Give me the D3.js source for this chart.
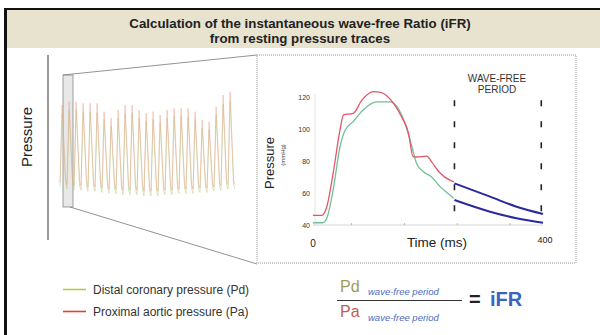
<!DOCTYPE html>
<html>
<head>
<meta charset="utf-8">
<script src="https://cdn.jsdelivr.net/npm/d3@7"></script>
<style>
	body { margin: 0; background: #fff; }
	svg { display: block; font-family: 'Liberation Sans', Arial, sans-serif; }
</style>
</head>
<body>
<svg></svg>
<script>
// main beat (time in ms, pressure in mmHg)
const paTime = [0, 15, 24, 35, 47, 53, 70, 85, 105, 119, 140, 154, 166, 174, 179, 198, 206, 221, 238, 245];
const paValue = [46, 46, 51.4, 72.3, 99.4, 108.8, 109.8, 118, 123.3, 122.7, 116, 107.7, 97.5, 82.7, 82.5, 83.1, 79.6, 72.5, 68, 67];
const pdTime = [0, 17, 24, 35, 47, 56, 70, 87, 111, 134, 146, 160, 172, 180, 192, 206, 221, 238, 245];
const pdValue = [41.4, 41.4, 44.2, 61.9, 88.9, 99.4, 104.6, 111.9, 117, 117, 114, 103.6, 88.9, 78.6, 73.3, 70.2, 64, 58.8, 56.7];

// wave-free period segments
const wfTime = [246, 308, 354, 400];
const wfPa = [66, 57.7, 51.4, 46.9];
const wfPd = [55.6, 48.3, 44.2, 41.4];
const wfWindow = [246, 397];

const yTicks = [40, 60, 80, 100, 120];
const xMinorTicks = [67, 159, 251, 343];

// compressed recording on the left: one value per beat
const miniPaPeak = [120, 123, 123, 121.5, 121.5, 121.5, 114, 108, 115.5, 120, 120, 115.5, 112.5, 114, 111, 115.5, 117, 117, 117, 114, 106.5, 105, 118.5, 129, 132];
const miniPaTrough = [50, 48, 47, 47, 46, 46, 45, 44, 44, 43, 43, 43, 42, 42, 42, 43, 43, 44, 44, 44, 45, 45, 46, 47, 48];
const miniPdPeak = [112, 115, 116, 114, 114, 113, 107, 101, 108, 112, 113, 108, 105, 107, 104, 108, 110, 110, 109, 107, 99, 98, 111, 121, 124];
const miniPdTrough = [46, 44, 43, 43, 42, 42, 41, 40, 40, 39, 39, 39, 38, 38, 38, 39, 39, 40, 40, 40, 41, 41, 42, 43, 44];

const legendItems = ['Distal coronary pressure (Pd)', 'Proximal aortic pressure (Pa)'];
const legendColors = ['#b7c84e', '#e0402c'];

const width = 600;
const height = 335;

const svg = d3.select('svg')
	.attr('width', width)
	.attr('height', height);

// frame and title band
svg.append('rect')
	.attr('x', 6).attr('y', 9)
	.attr('width', 600).attr('height', 39)
	.attr('fill', '#e7e3cf');
svg.append('line')
	.attr('x1', 5).attr('x2', 600).attr('y1', 9).attr('y2', 9)
	.attr('stroke', '#111').attr('stroke-width', 2);
svg.append('line')
	.attr('x1', 5.5).attr('x2', 5.5).attr('y1', 8).attr('y2', height)
	.attr('stroke', '#111').attr('stroke-width', 3);

const title = svg.append('text')
	.attr('text-anchor', 'middle')
	.attr('font-weight', 'bold')
	.attr('font-size', 13.3)
	.attr('fill', '#222');
title.append('tspan').attr('x', 300).attr('y', 28).text('Calculation of the instantaneous wave-free Ratio (iFR)');
title.append('tspan').attr('x', 300).attr('y', 43).text('from resting pressure traces');

// left overview
svg.append('line')
	.attr('x1', 48).attr('x2', 48).attr('y1', 55).attr('y2', 240)
	.attr('stroke', '#777').attr('stroke-width', 1.5);
svg.append('text')
	.attr('transform', 'translate(32,137) rotate(-90)')
	.attr('text-anchor', 'middle')
	.attr('font-size', 15)
	.attr('fill', '#222')
	.text('Pressure');

svg.append('rect')
	.attr('x', 63).attr('y', 75).attr('width', 10).attr('height', 132)
	.attr('fill', '#e8e8e8').attr('stroke', '#888').attr('stroke-width', 0.8);
svg.append('line')
	.attr('x1', 63).attr('y1', 75).attr('x2', 257).attr('y2', 55)
	.attr('stroke', '#777').attr('stroke-width', 0.8);
svg.append('line')
	.attr('x1', 70).attr('y1', 207).attr('x2', 257).attr('y2', 264)
	.attr('stroke', '#777').attr('stroke-width', 0.8);

const miniX = d3.scaleLinear().domain([0, 25]).range([60, 235]);
const miniY = d3.scaleLinear().domain([45, 120]).range([188, 105]);

// each beat: sharp upstroke to the peak, fast fall back near the trough
function miniPoints(peaks, troughs) {
	const pts = [];
	peaks.forEach((p, i) => {
		pts.push([i, troughs[i]]);
		pts.push([i + 0.3, p]);
		pts.push([i + 0.8, troughs[i] + 4]);
	});
	pts.push([peaks.length, troughs[troughs.length - 1]]);
	return pts;
}
const miniLine = d3.line()
	.x(d => miniX(d[0]))
	.y(d => miniY(d[1]));

svg.append('path')
	.attr('d', miniLine(miniPoints(miniPdPeak, miniPdTrough)))
	.attr('fill', 'none').attr('stroke', '#b4d48a').attr('stroke-opacity', 0.55).attr('stroke-width', 1);
svg.append('path')
	.attr('d', miniLine(miniPoints(miniPaPeak, miniPaTrough)))
	.attr('fill', 'none').attr('stroke', '#ee9a84').attr('stroke-opacity', 0.45).attr('stroke-width', 1);

// inset
svg.append('rect')
	.attr('x', 257).attr('y', 55).attr('width', 319).attr('height', 208)
	.attr('fill', 'none').attr('stroke', '#999').attr('stroke-width', 1)
	.attr('stroke-dasharray', '1,1');

const xScale = d3.scaleLinear().domain([0, 400]).range([313, 543]);
const yScale = d3.scaleLinear().domain([40, 120]).range([225, 97]);

const g = svg.append('g');

g.append('line')
	.attr('x1', 315).attr('x2', 315).attr('y1', yScale(122)).attr('y2', yScale(40))
	.attr('stroke', '#ddd').attr('stroke-width', 0.8);
g.append('line')
	.attr('x1', xScale(0)).attr('x2', xScale(400)).attr('y1', yScale(40)).attr('y2', yScale(40))
	.attr('stroke', '#ccc').attr('stroke-width', 0.8);
g.selectAll('line.xtick').data(xMinorTicks)
	.enter().append('line')
		.attr('class', 'xtick')
		.attr('x1', d => xScale(d)).attr('x2', d => xScale(d))
		.attr('y1', yScale(40)).attr('y2', yScale(40) - 2)
		.attr('stroke', '#aaa').attr('stroke-width', 0.8);

g.selectAll('text.ytick').data(yTicks)
	.enter().append('text')
		.attr('class', 'ytick')
		.attr('x', 310)
		.attr('y', d => yScale(d) + 2.5)
		.attr('text-anchor', 'end')
		.attr('font-size', 7)
		.attr('fill', '#333')
		.text(d => d);

g.append('text')
	.attr('transform', 'translate(274,163) rotate(-90)')
	.attr('text-anchor', 'middle')
	.attr('font-size', 13)
	.attr('fill', '#222')
	.text('Pressure');
g.append('text')
	.attr('transform', 'translate(285,155) rotate(-90)')
	.attr('text-anchor', 'middle')
	.attr('font-size', 6)
	.attr('fill', '#444')
	.text('(mmHg)');

g.append('text')
	.attr('x', xScale(0)).attr('y', 247)
	.attr('text-anchor', 'middle').attr('font-size', 10).attr('fill', '#222')
	.text('0');
g.append('text')
	.attr('x', xScale(400) + 2).attr('y', 243)
	.attr('text-anchor', 'middle').attr('font-size', 9).attr('fill', '#222')
	.text('400');
g.append('text')
	.attr('x', 437).attr('y', 246.5)
	.attr('text-anchor', 'middle').attr('font-size', 13.5).attr('fill', '#222')
	.text('Time (ms)');

const wfLabel = g.append('text')
	.attr('text-anchor', 'middle').attr('font-size', 10).attr('fill', '#333');
wfLabel.append('tspan').attr('x', 497).attr('y', 82).text('WAVE-FREE');
wfLabel.append('tspan').attr('x', 497).attr('y', 93).text('PERIOD');

g.selectAll('line.wf').data(wfWindow)
	.enter().append('line')
		.attr('class', 'wf')
		.attr('x1', d => xScale(d)).attr('x2', d => xScale(d))
		.attr('y1', yScale(118)).attr('y2', yScale(45))
		.attr('stroke', '#222').attr('stroke-width', 1.6)
		.attr('stroke-dasharray', '6,15');

const line = d3.line()
	.x(d => xScale(d[0]))
	.y(d => yScale(d[1]))
	.curve(d3.curveMonotoneX);

g.append('path')
	.attr('d', line(pdTime.map((t, i) => [t, pdValue[i]])))
	.attr('fill', 'none').attr('stroke', '#74bf98').attr('stroke-width', 1.3);
g.append('path')
	.attr('d', line(paTime.map((t, i) => [t, paValue[i]])))
	.attr('fill', 'none').attr('stroke', '#e2566a').attr('stroke-width', 1.3);

g.append('path')
	.attr('d', line(wfTime.map((t, i) => [t, wfPa[i]])))
	.attr('fill', 'none').attr('stroke', '#2a2a9e').attr('stroke-width', 2);
g.append('path')
	.attr('d', line(wfTime.map((t, i) => [t, wfPd[i]])))
	.attr('fill', 'none').attr('stroke', '#2a2a9e').attr('stroke-width', 2);

// legend
const legend = svg.selectAll('g.legend').data(legendItems)
	.enter().append('g')
		.attr('class', 'legend')
		.attr('transform', (d, i) => `translate(63,${289.5 + i * 22})`);
legend.append('line')
	.attr('x1', 0).attr('x2', 23)
	.attr('stroke', (d, i) => legendColors[i]).attr('stroke-width', 1.6);
legend.append('text')
	.attr('x', 30).attr('y', 4)
	.attr('font-size', 12).attr('fill', '#333')
	.text(d => d);

// formula
const f = svg.append('g');
f.append('text').attr('x', 340).attr('y', 292)
	.attr('font-size', 16).attr('fill', '#9e9c56').text('Pd');
f.append('text').attr('x', 368).attr('y', 295)
	.attr('font-size', 9.5).attr('font-style', 'italic').attr('fill', '#4a6cc0').text('wave-free period');
f.append('line').attr('x1', 337).attr('x2', 462).attr('y1', 300.5).attr('y2', 300.5)
	.attr('stroke', '#333').attr('stroke-width', 1);
f.append('text').attr('x', 340).attr('y', 317)
	.attr('font-size', 16).attr('fill', '#c45a5a').text('Pa');
f.append('text').attr('x', 368).attr('y', 321)
	.attr('font-size', 9.5).attr('font-style', 'italic').attr('fill', '#4a6cc0').text('wave-free period');
f.append('text').attr('x', 469).attr('y', 306)
	.attr('font-size', 20).attr('font-weight', 'bold').attr('fill', '#222').text('=');
f.append('text').attr('x', 490).attr('y', 306)
	.attr('font-size', 20).attr('font-weight', 'bold').attr('fill', '#3a64c4').text('iFR');
</script>
</body>
</html>
